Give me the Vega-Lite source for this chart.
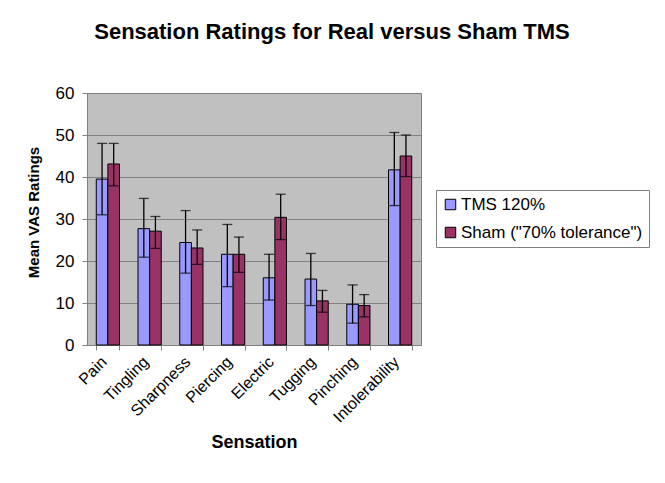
{
  "$schema": "https://vega.github.io/schema/vega-lite/v6.json",
  "width": 334,
  "height": 252,
  "autosize": {"type": "none"},
  "padding": {"left": 87, "top": 93, "right": 244, "bottom": 138},
  "background": "white",
  "title": {
    "text": "Sensation Ratings for Real versus Sham TMS",
    "font": "Liberation Sans",
    "fontSize": 22,
    "fontWeight": "bold",
    "color": "black",
    "anchor": "middle",
    "dx": 78,
    "offset": 40
  },
  "data": {
    "values": [
      {"sensation": "Pain", "group": "TMS 120%", "mean": 39.5, "lo": 31.0, "hi": 48.0},
      {"sensation": "Pain", "group": "Sham (\"70% tolerance\")", "mean": 43.1, "lo": 37.9, "hi": 48.0},
      {"sensation": "Tingling", "group": "TMS 120%", "mean": 27.7, "lo": 20.9, "hi": 34.9},
      {"sensation": "Tingling", "group": "Sham (\"70% tolerance\")", "mean": 27.1, "lo": 23.0, "hi": 30.6},
      {"sensation": "Sharpness", "group": "TMS 120%", "mean": 24.4, "lo": 17.1, "hi": 32.0},
      {"sensation": "Sharpness", "group": "Sham (\"70% tolerance\")", "mean": 23.1, "lo": 19.2, "hi": 27.4},
      {"sensation": "Piercing", "group": "TMS 120%", "mean": 21.6, "lo": 13.9, "hi": 28.7},
      {"sensation": "Piercing", "group": "Sham (\"70% tolerance\")", "mean": 21.6, "lo": 17.3, "hi": 25.7},
      {"sensation": "Electric", "group": "TMS 120%", "mean": 16.0, "lo": 10.7, "hi": 21.6},
      {"sensation": "Electric", "group": "Sham (\"70% tolerance\")", "mean": 30.4, "lo": 25.1, "hi": 35.9},
      {"sensation": "Tugging", "group": "TMS 120%", "mean": 15.7, "lo": 9.4, "hi": 21.8},
      {"sensation": "Tugging", "group": "Sham (\"70% tolerance\")", "mean": 10.5, "lo": 7.8, "hi": 13.0},
      {"sensation": "Pinching", "group": "TMS 120%", "mean": 9.7, "lo": 5.2, "hi": 14.3},
      {"sensation": "Pinching", "group": "Sham (\"70% tolerance\")", "mean": 9.4, "lo": 6.7, "hi": 12.0},
      {"sensation": "Intolerability", "group": "TMS 120%", "mean": 41.7, "lo": 33.2, "hi": 50.6},
      {"sensation": "Intolerability", "group": "Sham (\"70% tolerance\")", "mean": 45.0, "lo": 40.1, "hi": 50.0}
    ]
  },
  "encoding": {
    "x": {
      "field": "sensation",
      "type": "nominal",
      "sort": null,
      "scale": {"paddingInner": 0.444, "paddingOuter": 0.222},
      "axis": {
        "title": "Sensation",
        "titleFont": "Liberation Sans",
        "titleFontSize": 18,
        "titleFontWeight": "bold",
        "titleColor": "black",
        "titleY": 97,
        "titleBaseline": "middle",
        "labelFont": "Liberation Sans",
        "labelFontSize": 16,
        "labelColor": "black",
        "labelAngle": -45,
        "labelAlign": "right",
        "labelBaseline": "middle",
        "labelPadding": 9,
        "labelOffset": -4,
        "tickBand": "extent",
        "tickSize": 5,
        "tickColor": "#808080",
        "domainColor": "#808080",
        "grid": false
      }
    },
    "xOffset": {
      "field": "group",
      "type": "nominal",
      "sort": ["TMS 120%", "Sham (\"70% tolerance\")"],
      "scale": {"paddingInner": 0, "paddingOuter": 0}
    }
  },
  "layer": [
    {
      "mark": {"type": "bar", "stroke": "black", "strokeWidth": 1},
      "encoding": {
        "y": {
          "field": "mean",
          "type": "quantitative",
          "scale": {"domain": [0, 60], "nice": false},
          "axis": {
            "title": "Mean VAS Ratings",
            "titleFont": "Liberation Sans",
            "titleFontSize": 15,
            "titleFontWeight": "bold",
            "titleColor": "black",
            "titleX": -54,
            "titleY": 119,
            "titleBaseline": "middle",
            "titleAlign": "center",
            "titleAngle": -90,
            "values": [0, 10, 20, 30, 40, 50, 60],
            "labelFont": "Liberation Sans",
            "labelFontSize": 17,
            "labelColor": "black",
            "labelPadding": 8,
            "tickSize": 5,
            "tickColor": "#808080",
            "domainColor": "#808080",
            "grid": true,
            "gridColor": "#808080",
            "gridWidth": 1
          }
        },
        "color": {
          "field": "group",
          "type": "nominal",
          "sort": ["TMS 120%", "Sham (\"70% tolerance\")"],
          "scale": {"domain": ["TMS 120%", "Sham (\"70% tolerance\")"], "range": ["#9999FF", "#993366"]},
          "legend": {
            "title": null,
            "orient": "none",
            "legendX": 349,
            "legendY": 97,
            "padding": 6,
            "strokeColor": "#808080",
            "fillColor": "white",
            "labelFont": "Liberation Sans",
            "labelFontSize": 17,
            "labelColor": "black",
            "labelLimit": 400,
            "labelOffset": 2,
            "rowPadding": 10,
            "symbolType": "square",
            "symbolSize": 110,
            "symbolStrokeColor": "black",
            "symbolStrokeWidth": 1,
            "symbolOpacity": 1
          }
        }
      }
    },
    {
      "mark": {"type": "rule", "color": "black", "strokeWidth": 1.3},
      "encoding": {
        "y": {"field": "lo", "type": "quantitative"},
        "y2": {"field": "hi"}
      }
    },
    {
      "mark": {"type": "tick", "color": "black", "size": 10, "thickness": 1.3},
      "encoding": {
        "y": {"field": "hi", "type": "quantitative"}
      }
    },
    {
      "mark": {"type": "tick", "color": "black", "size": 10, "thickness": 1.3},
      "encoding": {
        "y": {"field": "lo", "type": "quantitative"}
      }
    }
  ],
  "config": {
    "view": {"fill": "#C0C0C0", "stroke": "#808080", "strokeWidth": 1},
    "axis": {"labelFont": "Liberation Sans"}
  }
}
